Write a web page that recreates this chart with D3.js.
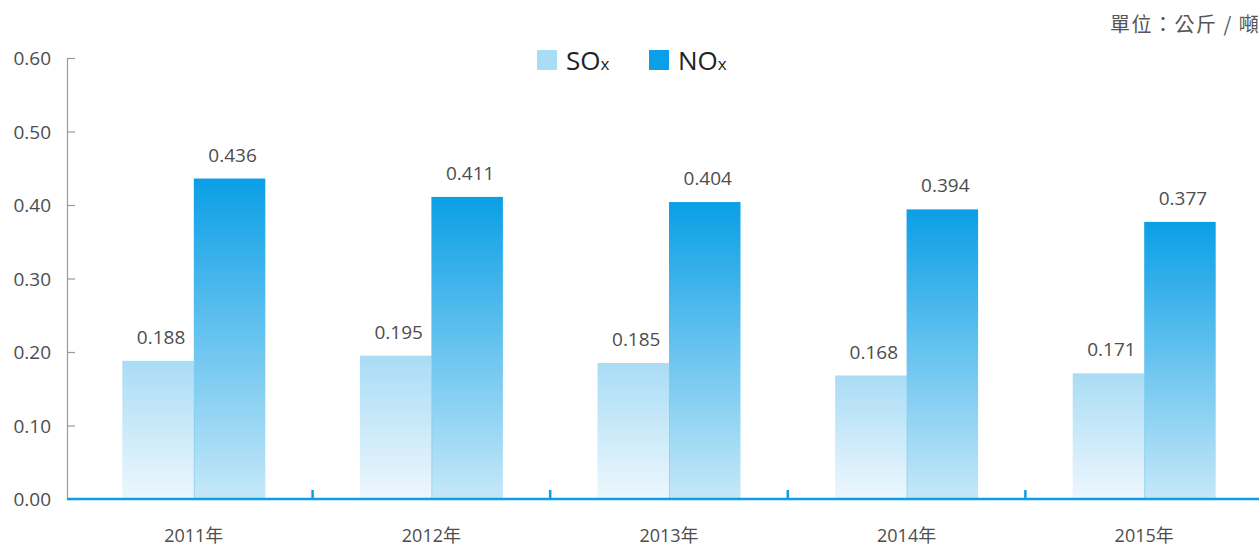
<!DOCTYPE html>
<html>
<head>
<meta charset="utf-8">
<script src="https://cdn.jsdelivr.net/npm/d3@7"></script>
<style>
  html, body { margin: 0; padding: 0; background: #fff; overflow: hidden; }
  svg { display: block; font-family: "Open Sans", "Noto Sans", "Noto Sans CJK TC", sans-serif; }
</style>
</head>
<body>
<svg id="chart" width="1259" height="546"></svg>
<script>
// Emissions intensity per year
const years = ["2011年", "2012年", "2013年", "2014年", "2015年"];
const seriesNames = ["SO", "NO"];
const soxValues = [0.188, 0.195, 0.185, 0.168, 0.171];
const noxValues = [0.436, 0.411, 0.404, 0.394, 0.377];
const yTicks = [0, 0.1, 0.2, 0.3, 0.4, 0.5, 0.6];
const unitLabel = "單位：公斤 / 噸";

const svg = d3.select("#chart");
const W = 1259, H = 546;
const axisX = 67, baseY = 499, topY = 58;
const textColor = "#4d4d4d";

const x = d3.scaleBand().domain(years).range([75, 1263]).paddingInner(0).paddingOuter(0);
const y = d3.scaleLinear().domain([0, 0.6]).range([baseY, topY]);
const barW = 71.5;

// Gradients: each bar fades from its series colour at the top to a pale tint at the base
const defs = svg.append("defs");
function grad(id, top, bottom) {
  const g = defs.append("linearGradient").attr("id", id)
    .attr("x1", 0).attr("y1", 0).attr("x2", 0).attr("y2", 1);
  g.append("stop").attr("offset", "0%").attr("stop-color", top);
  g.append("stop").attr("offset", "100%").attr("stop-color", bottom);
}
grad("gSox", "#a9dcf5", "#edf7fd");
grad("gNox", "#0a9fe6", "#c6e8f8");

// Y axis: grey line with short inward ticks
const yAxis = d3.axisRight(y).tickValues(yTicks).tickSize(8).tickFormat("");
const yg = svg.append("g").attr("transform", `translate(${axisX},0)`).call(yAxis);
yg.select(".domain").attr("stroke", "#9a9a9a").attr("stroke-width", 1.2)
  .attr("d", `M0.5,${topY}V${baseY}`);
yg.selectAll(".tick line").attr("stroke", "#9a9a9a").attr("stroke-width", 1.2);

svg.append("g").selectAll("text").data(yTicks).join("text")
  .attr("x", 51).attr("y", d => y(d) + 7)
  .attr("text-anchor", "end").attr("font-size", 19).attr("fill", textColor)
  .text(d => d.toFixed(2));

// Bars
const groups = svg.append("g").selectAll("g").data(years).join("g");
groups.append("rect")
  .attr("x", (d, i) => x(d) + x.bandwidth() / 2 - barW)
  .attr("y", (d, i) => y(soxValues[i]))
  .attr("width", barW)
  .attr("height", (d, i) => baseY - y(soxValues[i]))
  .attr("fill", "url(#gSox)");
groups.append("rect")
  .attr("x", d => x(d) + x.bandwidth() / 2)
  .attr("y", (d, i) => y(noxValues[i]))
  .attr("width", barW)
  .attr("height", (d, i) => baseY - y(noxValues[i]))
  .attr("fill", "url(#gNox)");
// thin seam between the paired bars
groups.append("line")
  .attr("x1", d => x(d) + x.bandwidth() / 2 + 0.5)
  .attr("x2", d => x(d) + x.bandwidth() / 2 + 0.5)
  .attr("y1", (d, i) => y(soxValues[i]))
  .attr("y2", baseY)
  .attr("stroke", "#7fcdf0").attr("stroke-width", 1).attr("stroke-opacity", 0.6);

// Value labels
groups.append("text")
  .attr("x", d => x(d) + x.bandwidth() / 2 - barW / 2 + 3)
  .attr("y", (d, i) => y(soxValues[i]) - 17)
  .attr("text-anchor", "middle").attr("font-size", 19).attr("fill", textColor)
  .text((d, i) => soxValues[i].toFixed(3));
groups.append("text")
  .attr("x", d => x(d) + x.bandwidth() / 2 + barW / 2 + 3)
  .attr("y", (d, i) => y(noxValues[i]) - 17)
  .attr("text-anchor", "middle").attr("font-size", 19).attr("fill", textColor)
  .text((d, i) => noxValues[i].toFixed(3));

// X axis: blue baseline with separators between years
svg.append("line").attr("x1", axisX).attr("x2", W).attr("y1", baseY).attr("y2", baseY)
  .attr("stroke", "#0a9fe6").attr("stroke-width", 2.5);
svg.append("g").selectAll("line").data(years.slice(1)).join("line")
  .attr("x1", d => x(d)).attr("x2", d => x(d))
  .attr("y1", baseY).attr("y2", baseY - 9)
  .attr("stroke", "#0a9fe6").attr("stroke-width", 2.5);
svg.append("g").selectAll("text").data(years).join("text")
  .attr("x", d => x(d) + x.bandwidth() / 2)
  .attr("y", 542)
  .attr("text-anchor", "middle").attr("font-size", 18).attr("fill", textColor)
  .text(d => d);

// Legend
const legendColors = ["#a9dcf5", "#0a9fe6"];
const legendX = [537, 649];
const lg = svg.append("g").selectAll("g").data(seriesNames).join("g")
  .attr("transform", (d, i) => `translate(${legendX[i]},50)`);
lg.append("rect").attr("width", 20).attr("height", 20).attr("fill", (d, i) => legendColors[i]);
const lt = lg.append("text").attr("x", 29).attr("y", 20).attr("fill", "#222");
lt.append("tspan").attr("font-size", 26).text(d => d);
lt.append("tspan").attr("font-size", 17).text("x");

// Unit note (runs off the right edge)
svg.append("text").attr("x", 1110).attr("y", 32)
  .attr("font-size", 20).attr("fill", "#555")
  .attr("font-family", "'Noto Sans CJK TC', 'Noto Sans', sans-serif")
  .attr("letter-spacing", 1.5)
  .text(unitLabel);
</script>
</body>
</html>
